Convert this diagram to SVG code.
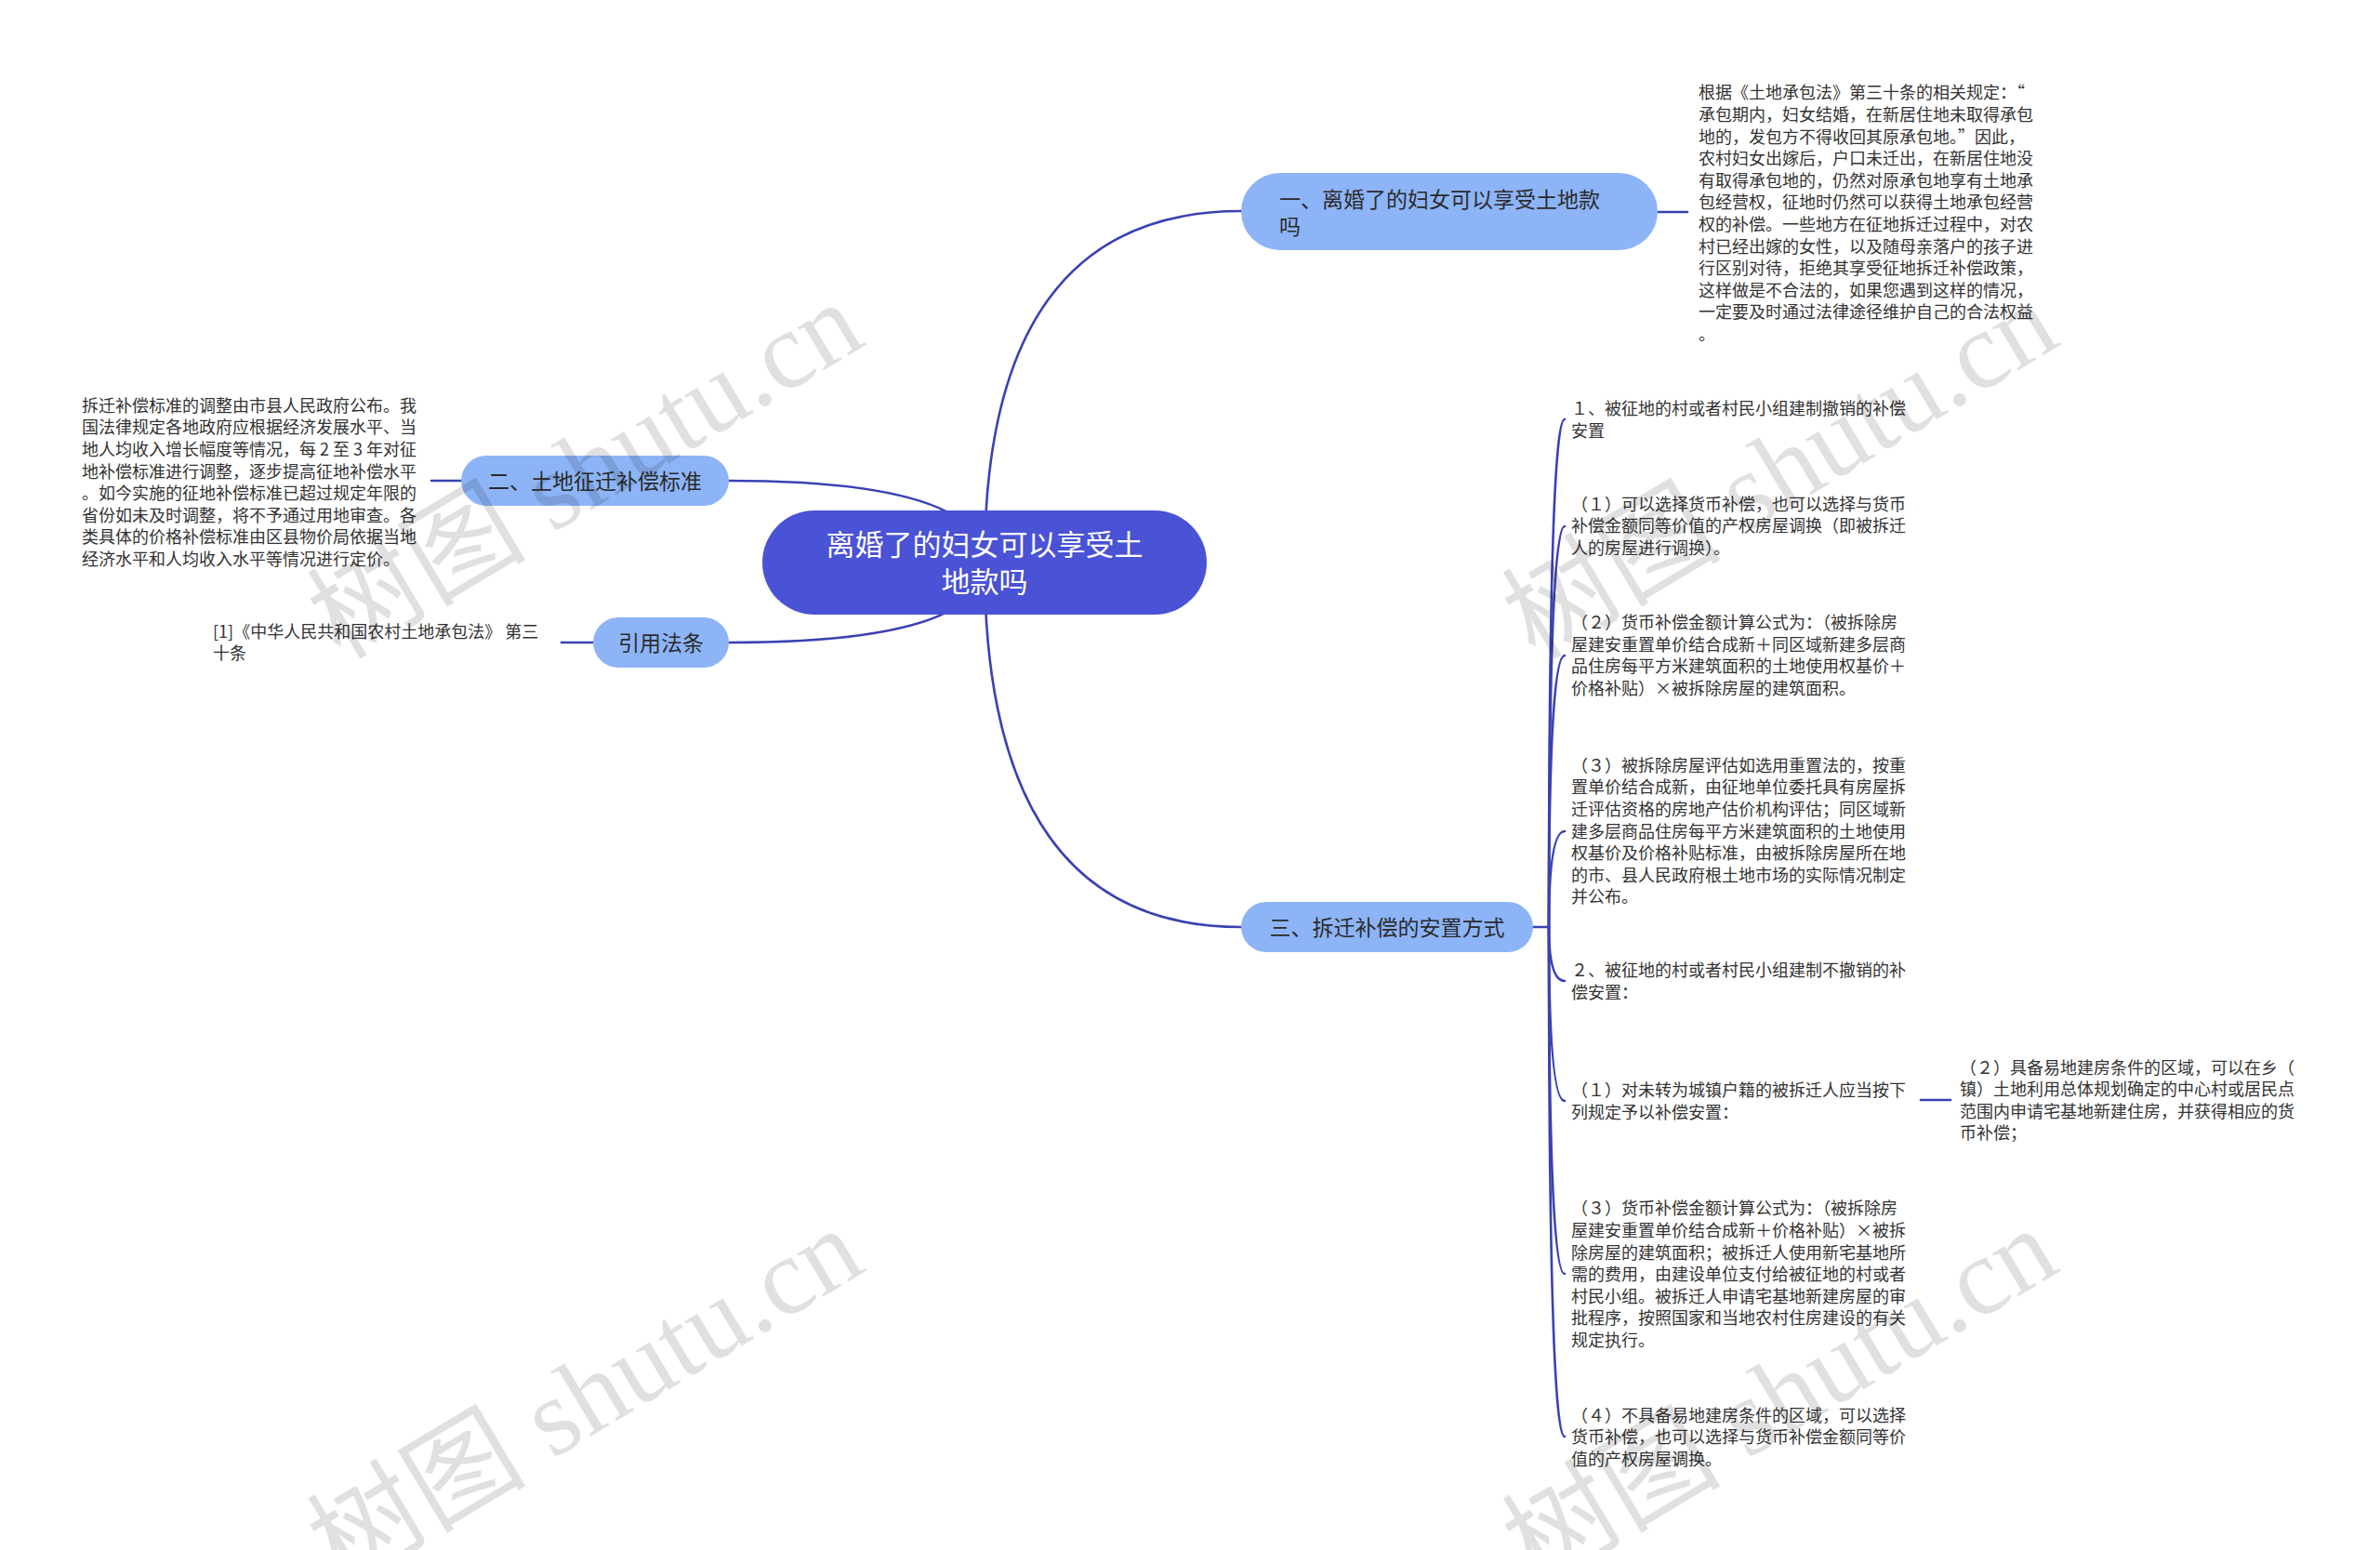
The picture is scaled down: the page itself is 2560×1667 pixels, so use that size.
<svg xmlns="http://www.w3.org/2000/svg" width="2560" height="1667" viewBox="0 0 2560 1667">
<style>
.bg{fill:#ffffff}
.line{fill:none;stroke:#3a41b3;stroke-width:2.6;stroke-linecap:round}
.root{fill:#4a52d5}
.br{fill:#8db4f7}
.rt{font-family:"Noto Sans CJK SC","Noto Sans",sans-serif;font-size:31px;fill:#ffffff}
.bt{font-family:"Noto Sans CJK SC","Noto Sans",sans-serif;font-size:23px;fill:#2b2b2b}
.dt{font-family:"Noto Sans CJK SC","Noto Sans",sans-serif;font-size:18px;fill:#333333}
.wm{font-family:"Liberation Serif","Noto Sans CJK SC",serif;font-size:118px;fill:#000000;fill-opacity:0.12}
</style>
<rect class="bg" x="0" y="0" width="2560" height="1667"/>
<g id="connectors">
<path class="line" d="M1059 605 Q1059 227 1335 227"/>
<path class="line" d="M1059 605 Q1059 517 784 517"/>
<path class="line" d="M1059 605 Q1059 691 784 691"/>
<path class="line" d="M1059 605 Q1059 997 1335 997"/>
<path class="line" d="M1783 228 L1815 228"/>
<path class="line" d="M496 517 L464 517"/>
<path class="line" d="M638 691 L604 691"/>
<path class="line" d="M1649 997 L1666 997"/>
<path class="line" d="M1666 997 Q1666 451 1683 451"/>
<path class="line" d="M1666 997 Q1666 566 1683 566"/>
<path class="line" d="M1666 997 Q1666 705 1683 705"/>
<path class="line" d="M1666 997 Q1666 894 1683 894"/>
<path class="line" d="M1666 997 Q1666 1055 1683 1055"/>
<path class="line" d="M1666 997 Q1666 1184 1683 1184"/>
<path class="line" d="M1666 997 Q1666 1370 1683 1370"/>
<path class="line" d="M1666 997 Q1666 1545 1683 1545"/>
<path class="line" d="M2066 1183 L2098 1183"/>
</g>
<g id="root">
<rect class="root" x="820" y="549" width="478" height="112" rx="56"/>
<text class="rt" text-anchor="middle"><tspan x="1059" y="597">离婚了的妇女可以享受土</tspan><tspan x="1059" y="637">地款吗</tspan></text>
</g>
<g id="branch1">
<rect class="br" x="1335" y="186" width="448" height="83" rx="41.5"/>
<text class="bt"><tspan x="1376" y="222.6">一、离婚了的妇女可以享受土地款</tspan><tspan x="1376" y="252">吗</tspan></text>
</g>
<g id="branch1-detail">
<text class="dt"><tspan x="1827" y="106.4">根据《土地承包法》第三十条的相关规定：“</tspan><tspan x="1827" y="130">承包期内，妇女结婚，在新居住地未取得承包</tspan><tspan x="1827" y="153.6">地的，发包方不得收回其原承包地。”因此，</tspan><tspan x="1827" y="177.2">农村妇女出嫁后，户口未迁出，在新居住地没</tspan><tspan x="1827" y="200.8">有取得承包地的，仍然对原承包地享有土地承</tspan><tspan x="1827" y="224.4">包经营权，征地时仍然可以获得土地承包经营</tspan><tspan x="1827" y="248">权的补偿。一些地方在征地拆迁过程中，对农</tspan><tspan x="1827" y="271.6">村已经出嫁的女性，以及随母亲落户的孩子进</tspan><tspan x="1827" y="295.2">行区别对待，拒绝其享受征地拆迁补偿政策，</tspan><tspan x="1827" y="318.8">这样做是不合法的，如果您遇到这样的情况，</tspan><tspan x="1827" y="342.4">一定要及时通过法律途径维护自己的合法权益</tspan><tspan x="1827" y="366">。</tspan></text>
</g>
<g id="branch2">
<rect class="br" x="496" y="490" width="288" height="54" rx="27"/>
<text class="bt" text-anchor="middle" x="640" y="525.7">二、土地征迁补偿标准</text>
</g>
<g id="branch2-detail">
<text class="dt"><tspan x="88" y="442.8">拆迁补偿标准的调整由市县人民政府公布。我</tspan><tspan x="88" y="466.4">国法律规定各地政府应根据经济发展水平、当</tspan><tspan x="88" y="490">地人均收入增长幅度等情况，每 2 至 3 年对征</tspan><tspan x="88" y="513.6">地补偿标准进行调整，逐步提高征地补偿水平</tspan><tspan x="88" y="537.2">。如今实施的征地补偿标准已超过规定年限的</tspan><tspan x="88" y="560.8">省份如未及时调整，将不予通过用地审查。各</tspan><tspan x="88" y="584.4">类具体的价格补偿标准由区县物价局依据当地</tspan><tspan x="88" y="608">经济水平和人均收入水平等情况进行定价。</tspan></text>
</g>
<g id="cite">
<rect class="br" x="638" y="664" width="146" height="54" rx="27"/>
<text class="bt" text-anchor="middle" x="711" y="699.7">引用法条</text>
</g>
<g id="cite-detail">
<text class="dt"><tspan x="229" y="685.8">[1]《中华人民共和国农村土地承包法》 第三</tspan><tspan x="229" y="709.4">十条</tspan></text>
</g>
<g id="branch3">
<rect class="br" x="1335" y="970" width="314" height="54" rx="27"/>
<text class="bt" text-anchor="middle" x="1492" y="1005.7">三、拆迁补偿的安置方式</text>
</g>
<g id="b3-c1">
<text class="dt"><tspan x="1690" y="446">１、被征地的村或者村民小组建制撤销的补偿</tspan><tspan x="1690" y="469.6">安置</tspan></text>
</g>
<g id="b3-c2">
<text class="dt"><tspan x="1690" y="548.8">（１）可以选择货币补偿，也可以选择与货币</tspan><tspan x="1690" y="572.4">补偿金额同等价值的产权房屋调换（即被拆迁</tspan><tspan x="1690" y="596">人的房屋进行调换）。</tspan></text>
</g>
<g id="b3-c3">
<text class="dt"><tspan x="1690" y="676.2">（２）货币补偿金额计算公式为：（被拆除房</tspan><tspan x="1690" y="699.8">屋建安重置单价结合成新＋同区域新建多层商</tspan><tspan x="1690" y="723.4">品住房每平方米建筑面积的土地使用权基价＋</tspan><tspan x="1690" y="747">价格补贴）×被拆除房屋的建筑面积。</tspan></text>
</g>
<g id="b3-c4">
<text class="dt"><tspan x="1690" y="829.7">（３）被拆除房屋评估如选用重置法的，按重</tspan><tspan x="1690" y="853.3">置单价结合成新，由征地单位委托具有房屋拆</tspan><tspan x="1690" y="876.9">迁评估资格的房地产估价机构评估；同区域新</tspan><tspan x="1690" y="900.5">建多层商品住房每平方米建筑面积的土地使用</tspan><tspan x="1690" y="924.1">权基价及价格补贴标准，由被拆除房屋所在地</tspan><tspan x="1690" y="947.7">的市、县人民政府根土地市场的实际情况制定</tspan><tspan x="1690" y="971.3">并公布。</tspan></text>
</g>
<g id="b3-c5">
<text class="dt"><tspan x="1690" y="1050.1">２、被征地的村或者村民小组建制不撤销的补</tspan><tspan x="1690" y="1073.7">偿安置：</tspan></text>
</g>
<g id="b3-c6">
<text class="dt"><tspan x="1690" y="1179.1">（１）对未转为城镇户籍的被拆迁人应当按下</tspan><tspan x="1690" y="1202.7">列规定予以补偿安置：</tspan></text>
</g>
<g id="b3-c6-1">
<text class="dt"><tspan x="2108" y="1154.6">（２）具备易地建房条件的区域，可以在乡（</tspan><tspan x="2108" y="1178.2">镇）土地利用总体规划确定的中心村或居民点</tspan><tspan x="2108" y="1201.8">范围内申请宅基地新建住房，并获得相应的货</tspan><tspan x="2108" y="1225.4">币补偿；</tspan></text>
</g>
<g id="b3-c7">
<text class="dt"><tspan x="1690" y="1306.4">（３）货币补偿金额计算公式为：（被拆除房</tspan><tspan x="1690" y="1330">屋建安重置单价结合成新＋价格补贴）×被拆</tspan><tspan x="1690" y="1353.6">除房屋的建筑面积；被拆迁人使用新宅基地所</tspan><tspan x="1690" y="1377.2">需的费用，由建设单位支付给被征地的村或者</tspan><tspan x="1690" y="1400.8">村民小组。被拆迁人申请宅基地新建房屋的审</tspan><tspan x="1690" y="1424.4">批程序，按照国家和当地农村住房建设的有关</tspan><tspan x="1690" y="1448">规定执行。</tspan></text>
</g>
<g id="b3-c8">
<text class="dt"><tspan x="1690" y="1528.5">（４）不具备易地建房条件的区域，可以选择</tspan><tspan x="1690" y="1552.1">货币补偿，也可以选择与货币补偿金额同等价</tspan><tspan x="1690" y="1575.7">值的产权房屋调换。</tspan></text>
</g>
<g id="watermarks">
<text class="wm" text-anchor="middle" transform="translate(650 540) rotate(-31)">树图 shutu.cn</text>
<text class="wm" text-anchor="middle" transform="translate(1935 540) rotate(-31)">树图 shutu.cn</text>
<text class="wm" text-anchor="middle" transform="translate(650 1536) rotate(-31)">树图 shutu.cn</text>
<text class="wm" text-anchor="middle" transform="translate(1935 1536) rotate(-31)">树图 shutu.cn</text>
</g>
</svg>
